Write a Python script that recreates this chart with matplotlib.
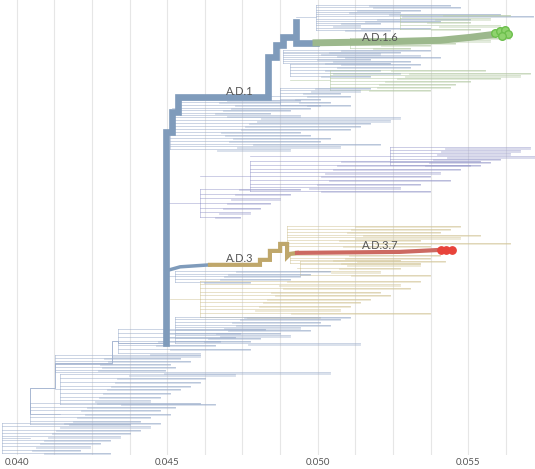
import matplotlib
matplotlib.use("Agg")
import matplotlib.pyplot as plt

BLUE = "#9aaccb"; PURP = "#9a9ccc"; GOLD = "#d2c597"; GREEN = "#b3c8a3"

# Fans: (stem divergence, node divergence, first row, last row, tip divergences, colour)
fan_top = (0.04928, 0.04994, 5, 30, [0.05439, 0.05472, 0.05340, 0.05273, 0.05605, 0.05715, 0.05506, 0.05406, 0.05207, 0.05140, 0.05373, 0.05240], BLUE)
fan_top_green = (0.05273, 0.05273, 15, 29, [0.05638, 0.05572, 0.05506, 0.05605, 0.05539], GREEN)
fan_ad16_side = (0.05041, 0.05107, 38, 48, [0.05638, 0.05572, 0.05456, 0.05373, 0.05306], GREEN)
fan_blue_a = (0.04885, 0.04885, 50, 63, [0.05373, 0.05273, 0.05207, 0.05340, 0.05406, 0.05174, 0.05306, 0.05240], BLUE)
fan_blue_b = (0.04908, 0.04908, 64, 76, [0.05340, 0.05306, 0.05207, 0.05273, 0.05174], BLUE)
fan_green_b = (0.04908, 0.05041, 70, 90, [0.05556, 0.05705, 0.05671, 0.05605, 0.05506, 0.05456, 0.05439, 0.05373], GREEN)
fan_blue_c = (0.04835, 0.04875, 88, 105, [0.05174, 0.05140, 0.05074, 0.05107, 0.05008, 0.05041, 0.05107], BLUE)
fan_blue_d = (0.04516, 0.04543, 100, 116, [0.04941, 0.04875, 0.05008, 0.04974, 0.04908, 0.04841, 0.04941], BLUE)
fan_blue_e = (0.04496, 0.04510, 118, 150, [0.05273, 0.05240, 0.05174, 0.05140, 0.05107, 0.04941, 0.04974, 0.05041, 0.05008, 0.05207, 0.05074, 0.04908], BLUE)
fan_purp_a = (0.04775, 0.05240, 148, 166, [0.05705, 0.05671, 0.05638, 0.05721, 0.05605, 0.05572, 0.05539], PURP)
fan_purp_b = (0.04609, 0.04775, 162, 192, [0.05539, 0.05506, 0.05472, 0.05406, 0.05373, 0.05439, 0.05340, 0.05273, 0.05373], PURP)
fan_purp_c = (0.04496, 0.04609, 190, 218, [0.04941, 0.04908, 0.04875, 0.04841, 0.04808, 0.04775, 0.04742], PURP)
fan_gold_a = (0.04898, 0.04898, 227, 247, [0.05472, 0.05439, 0.05406, 0.05539, 0.05472, 0.05340, 0.05638, 0.05373], GOLD)
fan_gold_b = (0.04908, 0.04908, 256, 264, [0.05406, 0.05373, 0.05273, 0.05340], GOLD)
fan_gold_c = (0.04931, 0.04941, 262, 276, [0.05423, 0.05340, 0.05273, 0.05207, 0.05373], GOLD)
fan_blue_f = (0.04496, 0.04526, 272, 283, [0.05041, 0.04974, 0.04941, 0.04908, 0.04775], BLUE)
fan_gold_d = (0.04510, 0.04609, 282, 318, [0.05340, 0.05273, 0.05306, 0.05207, 0.05240, 0.05174, 0.05140, 0.05107, 0.05074, 0.05373, 0.05008], GOLD)
fan_blue_g = (0.04496, 0.04526, 318, 345, [0.05107, 0.05074, 0.05008, 0.05041, 0.04941, 0.04974, 0.04875, 0.04908, 0.04808, 0.04775, 0.05140], BLUE)
fan_old_a = (0.04337, 0.04337, 330, 355, [0.04825, 0.04742, 0.04725, 0.04676, 0.04659, 0.04775, 0.04609], BLUE)
fan_old_b = (0.04317, 0.04128, 357, 374, [0.04609, 0.04543, 0.04576, 0.04510, 0.04526, 0.04493, 0.05041], BLUE)
fan_old_c = (0.04128, 0.04144, 376, 406, [0.04725, 0.04626, 0.04609, 0.04576, 0.04543, 0.04510, 0.04476, 0.04443, 0.04659], BLUE)
fan_old_d = (0.04144, 0.04045, 405, 426, [0.04609, 0.04526, 0.04476, 0.04510, 0.04443, 0.04410, 0.04377], BLUE)
fan_old_e = (0.04045, 0.03952, 425, 455, [0.04476, 0.04443, 0.04410, 0.04377, 0.04344, 0.04310, 0.04277, 0.04244, 0.04211, 0.04310], BLUE)

fans = [fan_top, fan_top_green, fan_ad16_side, fan_blue_a, fan_blue_b, fan_green_b,
        fan_blue_c, fan_blue_d, fan_blue_e, fan_purp_a, fan_purp_b, fan_purp_c,
        fan_gold_a, fan_gold_b, fan_gold_c, fan_blue_f, fan_gold_d, fan_blue_g,
        fan_old_a, fan_old_b, fan_old_c, fan_old_d, fan_old_e]

# Thick backbone paths
ad1_x = [0.04496, 0.04496, 0.04516, 0.04516, 0.04536, 0.04536, 0.04835, 0.04835, 0.04861, 0.04861, 0.04885, 0.04885, 0.04928, 0.04928]
ad1_y = [345, 133, 133, 112, 112, 97, 97, 57, 57, 45, 45, 37, 37, 22]
ad1_stem_x = [0.04928, 0.04994]
ad1_stem_y = [43, 43]
ad16_x = [0.04994, 0.05107, 0.05273, 0.05406, 0.05506, 0.05572]
ad16_y = [43, 42.5, 41.5, 40.5, 37.5, 35]
ad16_dots_x = [0.05589, 0.05605, 0.05622, 0.05630, 0.05610]
ad16_dots_y = [33, 31, 30, 34, 36]
ad3_blue_x = [0.04496, 0.04543, 0.04642]
ad3_blue_y = [272, 268, 266]
ad3_x = [0.04642, 0.04808, 0.04808, 0.04841, 0.04841, 0.04875, 0.04875, 0.04898, 0.04898, 0.04908, 0.04931]
ad3_y = [266, 266, 261, 261, 252, 252, 245, 245, 258, 255, 254]
ad37_x = [0.04931, 0.05107, 0.05273, 0.05373, 0.05406]
ad37_y = [254, 253.5, 253, 251.5, 251]
ad37_dots_x = [0.05409, 0.05425, 0.05445]
ad37_dots_y = [251, 251, 251]
old_spine_x = [0.04496, 0.04337, 0.04337, 0.04317, 0.04317, 0.04128, 0.04128, 0.04045, 0.04045]
old_spine_y = [345, 345, 342, 342, 365, 365, 390, 390, 415]

labels = ["A.D.1", "A.D.1.6", "A.D.3", "A.D.3.7"]
label_x = [0.04742, 0.05207, 0.04742, 0.05207]
label_y = [92, 38, 260, 247]

fig = plt.figure(figsize=(5.35, 4.69), dpi=100)
ax = fig.add_axes([0, 14/469, 1, 455/469])
ax.set_xlim(0.03945, 0.05721)
ax.set_ylim(457, 0)
for s in ax.spines.values():
    s.set_visible(False)
for g in [0.04 + 0.00125*i for i in range(15)]:
    ax.axvline(g, color="#e6e6e6", lw=0.8, zorder=0)

for stem, node, y0, y1, tips, col in fans:
    n = len(tips)
    ys = [y0 + (y1 - y0) * i / (n - 1) for i in range(n)]
    ym = (y0 + y1) / 2
    ax.plot([stem, node], [ym, ym], color=col, lw=0.5, alpha=0.7)
    ax.plot([node, node], [y0, y1], color=col, lw=0.5, alpha=0.7)
    for y, t in zip(ys, tips):
        ax.plot([node, t], [y, y], color=col, lw=0.6, alpha=0.6)
        ax.plot([node + (t - node) * 0.4, t * 0.9995 + node * 0.0005], [y + 1.2, y + 1.2], color=col, lw=1.3, alpha=0.4)

ax.plot(old_spine_x, old_spine_y, color=BLUE, lw=0.6)
ax.plot(ad1_x, ad1_y, color="#7f9bbb", lw=4.8, solid_joinstyle="miter", zorder=3)
ax.plot(ad1_stem_x, ad1_stem_y, color="#7f9bbb", lw=4.8, zorder=3)
ax.plot(ad16_x, ad16_y, color="#9cb88c", lw=5, zorder=3)
ax.scatter(ad16_dots_x, ad16_dots_y, s=30, color="#8fd36e", edgecolor="#6cbf4c", zorder=4)
ax.plot(ad3_blue_x, ad3_blue_y, color="#7f9bbb", lw=2.5, zorder=3)
ax.plot(ad3_x, ad3_y, color="#bfa76b", lw=3, solid_joinstyle="miter", zorder=3)
ax.plot(ad37_x, ad37_y, color="#cc6a62", lw=3, zorder=3)
ax.scatter(ad37_dots_x, ad37_dots_y, s=28, color="#e8433a", zorder=4)
for t, x, y in zip(labels, label_x, label_y):
    ax.text(x, y, t, fontsize=8, color="#555555", ha="center", va="center", family="Lato", zorder=5)

ax.set_xticks([0.040, 0.045, 0.050, 0.055])
ax.set_xticklabels(["0.040", "0.045", "0.050", "0.055"], fontsize=7, color="#555555", family="Lato")
ax.tick_params(axis="x", length=0, pad=2)
ax.set_yticks([])
fig.savefig("out.png", dpi=100)
